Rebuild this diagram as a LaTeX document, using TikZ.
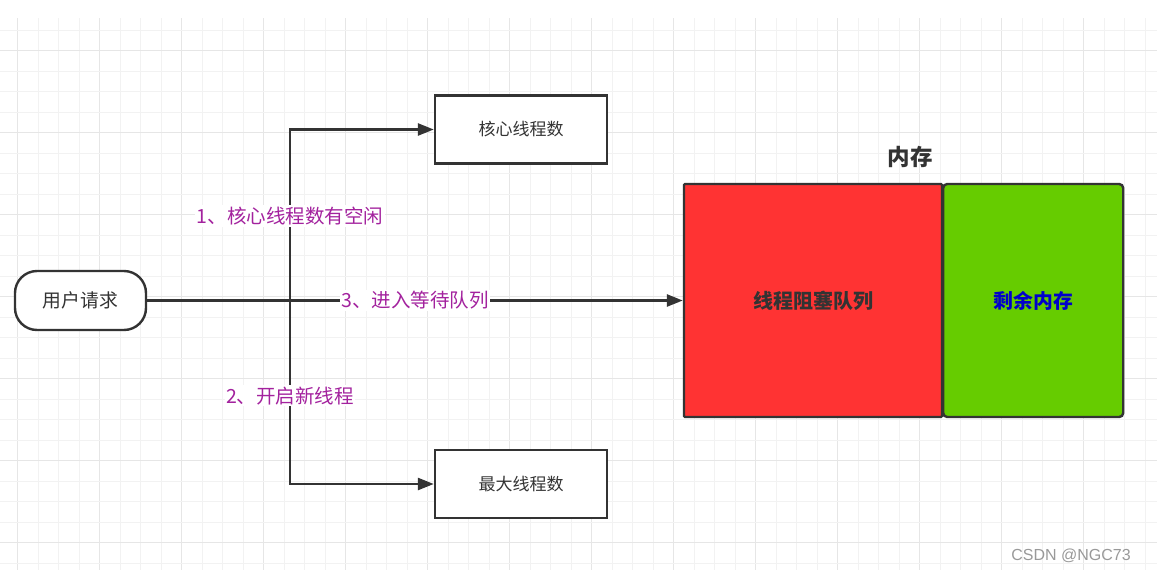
\documentclass[tikz,border=0pt]{standalone}
\usepackage{fontspec}
\setmainfont{Noto Sans CJK SC}
\newfontfamily\latinsans{Liberation Sans}
\usetikzlibrary{arrows.meta,positioning}
\definecolor{linegray}{HTML}{333333}
\definecolor{gridminor}{HTML}{F2F2F2}
\definecolor{gridmajor}{HTML}{E6E6E6}
\definecolor{labelpurple}{HTML}{A3229E}
\definecolor{queuered}{HTML}{FF3333}
\definecolor{freegreen}{HTML}{66CC00}
\definecolor{freeblue}{HTML}{0000CC}
\tikzset{
  flow/.style={line width=2.6pt, draw=linegray},
  flowarrow/.style={flow, -{Triangle[length=16pt,width=12pt]}},
  poolbox/.style={draw=linegray, line width=2.4pt, fill=white, minimum width=172pt,
    minimum height=68pt, inner sep=0pt, font=\fontsize{17}{20}\selectfont, text=linegray},
  steplabel/.style={fill=white, text=labelpurple, inner sep=1.5pt,
    font=\fontsize{19.5}{22}\selectfont}
}
\begin{document}
\begin{tikzpicture}[x=1pt, y=-1pt]
    \useasboundingbox (0,0) rectangle (1157,573);
    % 背景网格
    \fill[white] (0,0) rectangle (1157,573);
    \foreach \k in {-1,...,56} {
        \pgfmathsetmacro{\gx}{17.5+20.5*\k}
        \pgfmathtruncatemacro{\gm}{mod(\k+400,4)}
        \ifnum\gm=0
            \draw[gridmajor, line width=1.2pt] (\gx,18) -- (\gx,570);
        \else
            \draw[gridminor, line width=1pt] (\gx,18) -- (\gx,570);
        \fi
    }
    \foreach \k in {0,...,26} {
        \pgfmathsetmacro{\gy}{30+20.5*\k}
        \pgfmathtruncatemacro{\gm}{mod(\k+399,4)}
        \ifnum\gm=0
            \draw[gridmajor, line width=1.2pt] (0,\gy) -- (1157,\gy);
        \else
            \draw[gridminor, line width=1pt] (0,\gy) -- (1157,\gy);
        \fi
    }

    % 用户请求
    \node[draw=linegray, line width=2.4pt, fill=white, rounded corners=22pt,
        minimum width=131pt, minimum height=59pt, inner sep=0pt,
        font=\fontsize{18.8}{22}\selectfont, text=linegray] (user) at (80.5,300.5) {用户请求};

    % 线程池
    \node[poolbox] (core) at (521,129.5) {核心线程数};
    \node[poolbox] (max) at (521,484) {最大线程数};

    % 内存
    \node[draw=linegray, line width=2.4pt, fill=queuered, minimum width=258pt,
        minimum height=233pt, inner sep=0pt, text=linegray, rounded corners=1pt,
        font=\fontsize{20}{24}\selectfont\bfseries] (queue) at (813,300.5) {线程阻塞队列};
    \node[draw=linegray, line width=2.4pt, fill=freegreen, minimum width=180pt,
        minimum height=233pt, inner sep=0pt, text=freeblue, rounded corners=4pt,
        font=\fontsize{19.8}{24}\selectfont\bfseries, right=0pt of queue.east, anchor=west,
        xshift=-1.2pt] (free) {剩余内存};
    \node[text=linegray, font=\fontsize{22.5}{26}\selectfont\bfseries] (memtitle) at (910,157) {内存};

    % 连线
    \coordinate (jn) at (290,300.5);
    \draw[flowarrow] (user.east) -- (queue.west |- user.east)
        node[steplabel, pos=0.5] (lab3) {3、进入等待队列};
    \draw[flowarrow] (jn) |- (core.west)
        node[steplabel, pos=0.247] (lab1) {1、核心线程数有空闲};
    \draw[flowarrow] (jn) |- (max.west)
        node[steplabel, pos=0.26] (lab2) {2、开启新线程};

    % 水印
    \node[text=gray!80, font=\latinsans\fontsize{16}{19}\selectfont] (mark) at (1071,556) {CSDN @NGC73};
\end{tikzpicture}
\end{document}
